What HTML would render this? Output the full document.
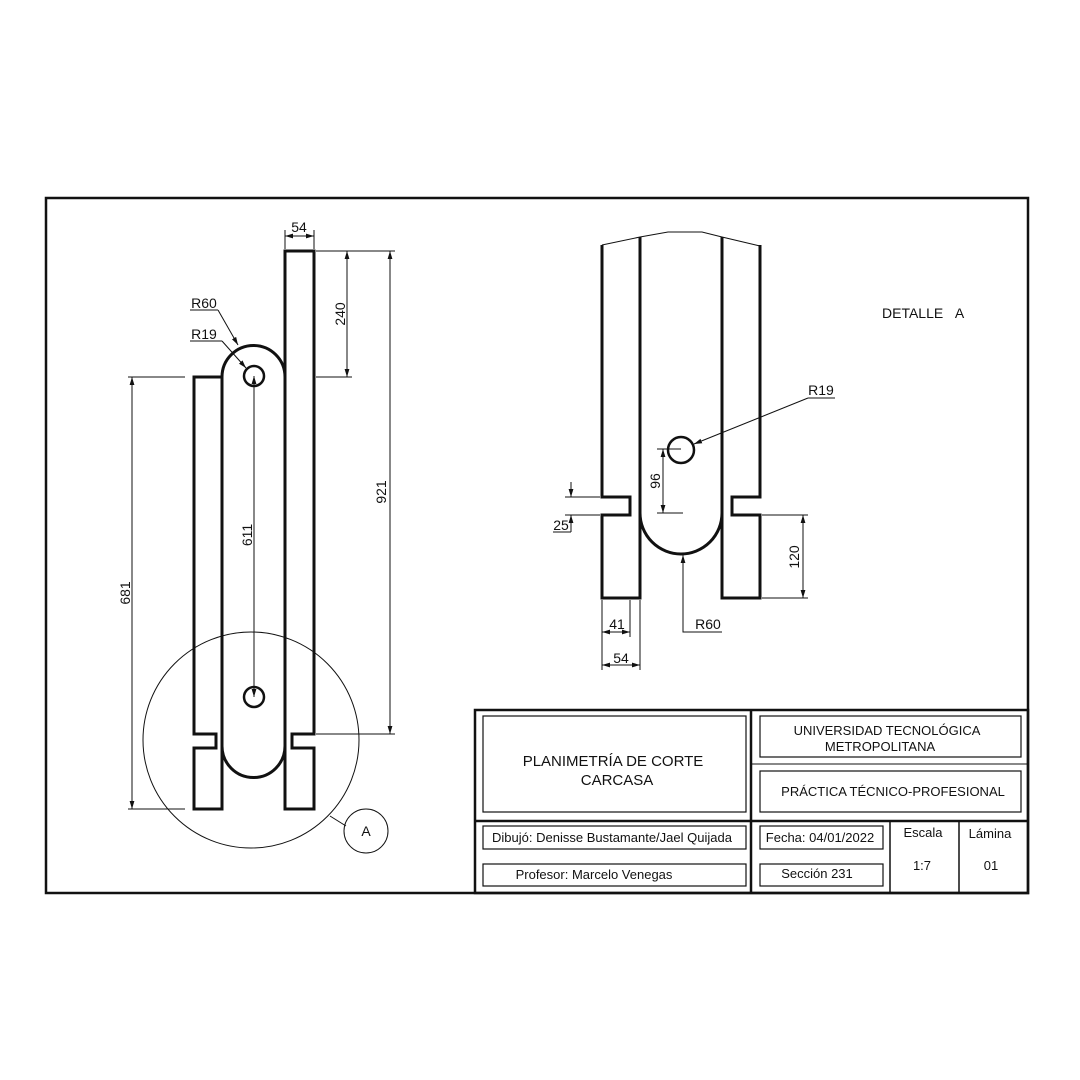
<!DOCTYPE html>
<html><head><meta charset="utf-8"><style>
html,body{margin:0;padding:0;background:#fff;}
svg{display:block;}
text{font-family:"Liberation Sans",sans-serif;fill:#111;}
</style></head><body>
<svg width="1080" height="1080" viewBox="0 0 1080 1080" xmlns="http://www.w3.org/2000/svg">
<defs>
<marker id="ar" viewBox="0 0 10 10" refX="10" refY="5" markerWidth="8" markerHeight="8" orient="auto-start-reverse" markerUnits="userSpaceOnUse"><path d="M0,2 L10,5 L0,8 z" fill="#111"/></marker>
</defs>
<rect x="0" y="0" width="1080" height="1080" fill="#fff"/>
<!-- frame -->
<rect x="46" y="198" width="982" height="695" fill="none" stroke="#111" stroke-width="2.5"/>

<!-- LEFT DRAWING -->
<g fill="none" stroke="#111" stroke-width="3">
<path d="M222,377 H194 V734 H216 V748 H194 V809 H222 Z"/>
<path d="M285,251 H314 V734 H292 V748 H314 V809 H285 Z"/>
<path d="M222,809 V377 A31.5,31.5 0 0 1 285,377 V746 A31.5,31.5 0 0 1 222,746"/>
<circle cx="254" cy="376" r="10" stroke-width="2.5"/>
<circle cx="254" cy="697" r="10" stroke-width="2.5"/>
</g>
<g fill="none" stroke="#111" stroke-width="1">
<circle cx="251" cy="740" r="108"/>
<line x1="330" y1="816" x2="346" y2="826"/>
<circle cx="366" cy="831" r="22"/>
<!-- 54 -->
<line x1="285" y1="249" x2="285" y2="230"/><line x1="314" y1="249" x2="314" y2="230"/>
<line x1="285" y1="236" x2="314" y2="236" marker-start="url(#ar)" marker-end="url(#ar)"/>
<!-- 240 -->
<line x1="316" y1="251" x2="352" y2="251"/><line x1="316" y1="377" x2="352" y2="377"/>
<line x1="347" y1="251" x2="347" y2="377" marker-start="url(#ar)" marker-end="url(#ar)"/>
<!-- 921 -->
<line x1="352" y1="251" x2="395" y2="251"/><line x1="316" y1="734" x2="395" y2="734"/>
<line x1="390" y1="251" x2="390" y2="734" marker-start="url(#ar)" marker-end="url(#ar)"/>
<!-- 681 -->
<line x1="128" y1="377" x2="185" y2="377"/><line x1="128" y1="809" x2="185" y2="809"/>
<line x1="132" y1="377" x2="132" y2="809" marker-start="url(#ar)" marker-end="url(#ar)"/>
<!-- 611 -->
<line x1="254" y1="376" x2="254" y2="697" marker-start="url(#ar)" marker-end="url(#ar)"/>
<!-- R60 / R19 leaders -->
<line x1="190" y1="310" x2="218" y2="310"/><line x1="218" y1="310" x2="238" y2="345" marker-end="url(#ar)"/>
<line x1="190" y1="341" x2="222" y2="341"/><line x1="222" y1="341" x2="246" y2="368" marker-end="url(#ar)"/>
</g>
<g font-size="14">
<text x="299" y="232" text-anchor="middle">54</text>
<text x="204" y="308" text-anchor="middle">R60</text>
<text x="204" y="339" text-anchor="middle">R19</text>
<text x="366" y="836" text-anchor="middle">A</text>
<text transform="translate(345,314) rotate(-90)" text-anchor="middle">240</text>
<text transform="translate(386,492) rotate(-90)" text-anchor="middle">921</text>
<text transform="translate(130,593) rotate(-90)" text-anchor="middle">681</text>
<text transform="translate(252,535) rotate(-90)" text-anchor="middle">611</text>
</g>

<!-- DETAIL -->
<g fill="none" stroke="#111" stroke-width="3">
<path d="M602,245 V497 H630 V515 H602 V598 H640 V237"/>
<path d="M760,245 V497 H732 V515 H760 V598 H722 V237"/>
<path d="M640,513 A41,41 0 0 0 722,513"/>
<circle cx="681" cy="450" r="13" stroke-width="2.5"/>
</g>
<g fill="none" stroke="#111" stroke-width="1">
<polyline points="602,245 640,237 668,232 702,232 722,237 760,246"/>
<!-- 96 -->
<line x1="657" y1="449" x2="681" y2="449"/><line x1="657" y1="513" x2="683" y2="513"/>
<line x1="663" y1="449" x2="663" y2="513" marker-start="url(#ar)" marker-end="url(#ar)"/>
<!-- R60 -->
<polyline points="722,632 683,632 683,556"/>
<line x1="683" y1="600" x2="683" y2="555" marker-end="url(#ar)"/>
<!-- R19 -->
<line x1="808" y1="398" x2="835" y2="398"/>
<line x1="808" y1="398" x2="694" y2="444" marker-end="url(#ar)"/>
<!-- 25 -->
<line x1="565" y1="497" x2="600" y2="497"/><line x1="565" y1="515" x2="600" y2="515"/>
<line x1="571" y1="482" x2="571" y2="497" marker-end="url(#ar)"/>
<line x1="571" y1="532" x2="571" y2="515" marker-end="url(#ar)"/>
<line x1="553" y1="532" x2="571" y2="532"/>
<!-- 120 -->
<line x1="762" y1="515" x2="808" y2="515"/><line x1="762" y1="598" x2="808" y2="598"/>
<line x1="803" y1="515" x2="803" y2="598" marker-start="url(#ar)" marker-end="url(#ar)"/>
<!-- 41 / 54 -->
<line x1="602" y1="600" x2="602" y2="670"/><line x1="630" y1="600" x2="630" y2="637"/><line x1="640" y1="600" x2="640" y2="670"/>
<line x1="602" y1="632" x2="630" y2="632" marker-start="url(#ar)" marker-end="url(#ar)"/>
<line x1="602" y1="665" x2="640" y2="665" marker-start="url(#ar)" marker-end="url(#ar)"/>
</g>
<g font-size="14">
<text x="821" y="395" text-anchor="middle">R19</text>
<text x="708" y="629" text-anchor="middle">R60</text>
<text x="561" y="530" text-anchor="middle">25</text>
<text x="617" y="629" text-anchor="middle">41</text>
<text x="621" y="663" text-anchor="middle">54</text>
<text transform="translate(660,481) rotate(-90)" text-anchor="middle">96</text>
<text transform="translate(799,557) rotate(-90)" text-anchor="middle">120</text>
<text x="882" y="318">DETALLE&#160;&#160;&#160;A</text>
</g>

<!-- TITLE BLOCK -->
<g fill="none" stroke="#111">
<rect x="475" y="710" width="553" height="183" stroke-width="2.5"/>
<line x1="751" y1="710" x2="751" y2="893" stroke-width="2.5"/>
<line x1="475" y1="821" x2="1028" y2="821" stroke-width="2.5"/>
<line x1="751" y1="764" x2="1028" y2="764" stroke-width="1"/>
<line x1="890" y1="821" x2="890" y2="893" stroke-width="1.5"/>
<line x1="959" y1="821" x2="959" y2="893" stroke-width="1.5"/>
<g stroke-width="1.2">
<rect x="483" y="716" width="263" height="96"/>
<rect x="760" y="716" width="261" height="41"/>
<rect x="760" y="771" width="261" height="41"/>
<rect x="483" y="826" width="263" height="23"/>
<rect x="483" y="864" width="263" height="22"/>
<rect x="760" y="826" width="123" height="23"/>
<rect x="760" y="864" width="123" height="22"/>
</g>
</g>
<g font-size="13" text-anchor="middle">
<text x="613" y="766" font-size="15">PLANIMETRÍA DE CORTE</text>
<text x="617" y="785" font-size="15">CARCASA</text>
<text x="887" y="735">UNIVERSIDAD TECNOLÓGICA</text>
<text x="880" y="751">METROPOLITANA</text>
<text x="893" y="796">PRÁCTICA TÉCNICO-PROFESIONAL</text>
<text x="612" y="842">Dibujó: Denisse Bustamante/Jael Quijada</text>
<text x="594" y="879">Profesor: Marcelo Venegas</text>
<text x="820" y="842">Fecha: 04/01/2022</text>
<text x="817" y="878">Sección 231</text>
<text x="923" y="837">Escala</text>
<text x="922" y="870">1:7</text>
<text x="990" y="838">Lámina</text>
<text x="991" y="870">01</text>
</g>
</svg>
</body></html>
